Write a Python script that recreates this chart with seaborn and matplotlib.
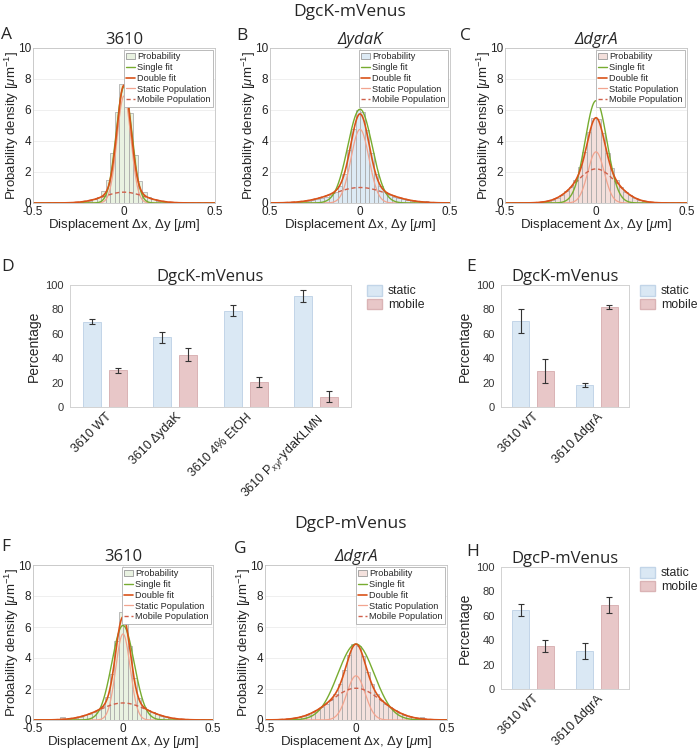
import numpy as np
import pandas as pd
import matplotlib
matplotlib.use("Agg")
import matplotlib.pyplot as plt
from matplotlib.patches import Patch
from matplotlib.lines import Line2D
import seaborn as sns

# ---------------- data ----------------
# Histogram panels: displacement distributions (bins of 0.025 um from -0.4 to 0.4)
hist_titles = ["3610", "ΔydaK", "ΔdgrA", "3610", "ΔdgrA"]
hist_letters = ["A", "B", "C", "F", "G"]

hist_A = [0, 0, 0, 0.01, 0.02, 0.03, 0.06, 0.1, 0.15, 0.25, 0.4, 0.75, 1.5, 3.2, 5.9, 7.7,
          7.6, 5.8, 3.1, 1.4, 0.7, 0.4, 0.25, 0.15, 0.1, 0.06, 0.04, 0.02, 0.01, 0, 0, 0]
hist_B = [0.03, 0.05, 0.08, 0.1, 0.15, 0.2, 0.25, 0.3, 0.4, 0.5, 0.7, 1.1, 1.9, 3.4, 4.8, 6.0,
          5.9, 4.7, 3.2, 1.9, 1.1, 0.7, 0.5, 0.4, 0.3, 0.25, 0.2, 0.15, 0.1, 0.08, 0.12, 0.05]
hist_C = [0, 0.01, 0.02, 0.04, 0.07, 0.13, 0.22, 0.35, 0.5, 0.75, 1.05, 1.5, 2.3, 3.3, 4.6, 5.5,
          5.4, 4.5, 3.2, 2.25, 1.5, 1.0, 0.72, 0.5, 0.33, 0.2, 0.12, 0.07, 0.04, 0.02, 0.01, 0]
hist_F = [0.01, 0.02, 0.2, 0.06, 0.1, 0.15, 0.2, 0.3, 0.4, 0.5, 0.65, 0.9, 1.5, 3.0, 5.1, 7.0,
          6.6, 4.8, 2.7, 1.4, 0.85, 0.62, 0.5, 0.38, 0.28, 0.2, 0.14, 0.09, 0.06, 0.04, 0.02, 0.01]
hist_G = [0.05, 0.07, 0.11, 0.17, 0.25, 0.35, 0.5, 0.65, 0.85, 1.05, 1.3, 1.7, 2.3, 3.2, 4.2, 4.9,
          4.8, 4.1, 3.1, 2.3, 1.7, 1.3, 1.05, 0.84, 0.64, 0.48, 0.35, 0.25, 0.17, 0.11, 0.2, 0.05]
hist_values = [hist_A, hist_B, hist_C, hist_F, hist_G]

# Gaussian fit parameters (peak height, sigma) per panel A, B, C, F, G
single_peak = [7.5, 6.05, 6.6, 6.1, 4.9]
single_sigma = [0.043, 0.068, 0.06, 0.062, 0.1]
static_peak = [6.9, 4.75, 3.3, 5.55, 2.85]
static_sigma = [0.038, 0.05, 0.045, 0.04, 0.05]
mobile_peak = [0.7, 1.0, 2.2, 1.1, 2.05]
mobile_sigma = [0.11, 0.15, 0.11, 0.13, 0.14]

# Bar panels: percentage static / mobile
D_strains = ["3610 WT", "3610 ΔydaK", "3610 4% EtOH", "3610 P$_{xyl}$-ydaKLMN"]
D_static = [70, 57, 79, 91]
D_static_err = [2, 4.5, 4.5, 4.8]
D_mobile = [30, 43, 20.5, 8.6]
D_mobile_err = [2.3, 5, 4.5, 4.8]

E_strains = ["3610 WT", "3610 ΔdgrA"]
E_static = [70.5, 17.8]
E_static_err = [10, 1.6]
E_mobile = [29.5, 81.7]
E_mobile_err = [10, 1.6]

H_strains = ["3610 WT", "3610 ΔdgrA"]
H_static = [65, 31]
H_static_err = [4.8, 6.5]
H_mobile = [35, 69]
H_mobile_err = [4.8, 6.5]

# ---------------- style ----------------
sns.set_style("white")
plt.rcParams['font.family'] = ['Liberation Sans', 'DejaVu Sans']
plt.rcParams['axes.unicode_minus'] = False
plt.rcParams['mathtext.fontset'] = 'custom'
plt.rcParams['mathtext.rm'] = 'Liberation Sans'
plt.rcParams['mathtext.it'] = 'Liberation Sans:italic'
plt.rcParams['mathtext.bf'] = 'Liberation Sans:bold'

TITLE_FONT = ['Open Sans', 'DejaVu Sans']

hist_faces = ['#e9f2e1', '#ddeaf4', '#f3dfdb', '#e9f2e1', '#f4e1dd']
HIST_EDGE = '#a3a3a3'
C_SINGLE = '#77ac30'
C_DOUBLE = '#d95319'
C_STATIC = '#f2a48f'
C_MOBILE = '#d0604a'

STATIC_FACE, STATIC_EDGE = '#dae8f4', '#c2d5e8'
MOBILE_FACE, MOBILE_EDGE = '#e8c7c8', '#dab3b5'

W, H = 700, 749
fig = plt.figure(figsize=(W / 100, H / 100), dpi=100)


def ax_px(l, t, r, b):
    return fig.add_axes([l / W, 1 - b / H, (r - l) / W, (b - t) / H])


def letter(x, y, s):
    fig.text(x / W, 1 - y / H, s, fontsize=12.5, family=TITLE_FONT, ha='left', va='center')


def gauss(x, a, s):
    return a * np.exp(-x ** 2 / (2 * s ** 2))


BIN_W = 0.025
centers = np.arange(-0.4 + BIN_W / 2, 0.4, BIN_W)
xg = np.linspace(-0.5, 0.5, 1001)

hist_boxes = [(33, 48, 215, 203), (270, 48, 450, 203), (505, 48, 687, 203),
              (33, 565, 213, 720), (265, 565, 447, 720)]
letter_pos = [(1, 35), (236, 36), (460, 36), (1, 547), (234, 549)]

for i in range(5):
    l, t, r, b = hist_boxes[i]
    ax = ax_px(l, t, r, b)
    hdf = pd.DataFrame({'x': centers, 'w': hist_values[i]})
    sns.histplot(data=hdf, x='x', weights='w', binwidth=BIN_W, binrange=(-0.4, 0.4), ax=ax,
                 color=hist_faces[i], edgecolor=HIST_EDGE, linewidth=0.5, alpha=1)
    st = gauss(xg, static_peak[i], static_sigma[i])
    mo = gauss(xg, mobile_peak[i], mobile_sigma[i])
    si = gauss(xg, single_peak[i], single_sigma[i])
    sns.lineplot(x=xg, y=st, ax=ax, color=C_STATIC, lw=0.9)
    sns.lineplot(x=xg, y=mo, ax=ax, color=C_MOBILE, lw=1.0, linestyle=(0, (3, 2)))
    sns.lineplot(x=xg, y=si, ax=ax, color=C_SINGLE, lw=1.0)
    sns.lineplot(x=xg, y=st + mo, ax=ax, color=C_DOUBLE, lw=1.2)
    ax.set_xlim(-0.5, 0.5)
    ax.set_ylim(0, 10)
    ax.set_xticks([-0.5, 0, 0.5])
    if i == 1:
        ax.set_xticklabels(['0.5', '0', '0.5'])
    else:
        ax.set_xticklabels(['-0.5', '0', '0.5'])
    ax.set_yticks([0, 2, 4, 6, 8, 10])
    ax.set_yticklabels(['0', '2', '4', '6', '8', '10'])
    ax.grid(True, color='#ececec', lw=0.6)
    ax.set_axisbelow(True)
    for sp in ax.spines.values():
        sp.set_color('#c4c4c4')
        sp.set_linewidth(0.6)
    ax.tick_params(direction='in', length=2.5, width=0.5, color='#999999',
                   labelsize=8.5, labelcolor='#222222', pad=1.5)
    ax.tick_params(axis='x', pad=2.5)
    ax.set_ylabel(r'Probability density [$\mu$m$^{-1}$]', fontsize=9.5)
    ax.yaxis.set_label_coords(-12 / (r - l), 0.5)
    ax.set_xlabel(r'Displacement $\Delta$x, $\Delta$y [$\mu$m]', fontsize=9.5)
    ax.xaxis.set_label_coords(0.5, -14.5 / (b - t))
    ax.set_title(hist_titles[i], fontsize=12, family=TITLE_FONT, pad=3,
                 style='normal' if hist_titles[i] == '3610' else 'italic')
    handles = [Patch(facecolor=hist_faces[i], edgecolor='#999999', lw=0.6, label='Probability'),
               Line2D([], [], color=C_SINGLE, lw=1.0, label='Single fit'),
               Line2D([], [], color=C_DOUBLE, lw=1.2, label='Double fit'),
               Line2D([], [], color=C_STATIC, lw=0.9, label='Static Population'),
               Line2D([], [], color=C_MOBILE, lw=1.0, linestyle=(0, (3, 2)), label='Mobile Population')]
    leg = ax.legend(handles=handles, loc='upper right', fontsize=6.6, frameon=True, fancybox=False,
                    borderpad=0.25, labelspacing=0.2, handlelength=1.0, handletextpad=0.25,
                    borderaxespad=0.2, framealpha=1)
    leg.get_frame().set_edgecolor('#b0b0b0')
    leg.get_frame().set_linewidth(0.6)
    letter(*letter_pos[i], hist_letters[i])


def bar_panel(box, strains, s, se, m, me, title, title_y, leg_x, width, gap):
    l, t, r, b = box
    ax = ax_px(l, t, r, b)
    n = len(strains)
    df = pd.DataFrame({'strain': strains * 2,
                       'population': ['static'] * n + ['mobile'] * n,
                       'pct': s + m})
    sns.barplot(data=df, x='strain', y='pct', hue='population', order=strains,
                hue_order=['static', 'mobile'],
                palette={'static': STATIC_FACE, 'mobile': MOBILE_FACE},
                width=width, gap=gap, errorbar=None, ax=ax, legend=False,
                saturation=1, linewidth=0.7)
    for cont, edgec, vals, errs in zip(ax.containers, [STATIC_EDGE, MOBILE_EDGE], [s, m], [se, me]):
        xs = []
        for p in cont:
            p.set_edgecolor(edgec)
            xs.append(p.get_x() + p.get_width() / 2)
        ax.errorbar(xs, vals, yerr=errs, fmt='none', ecolor='#333333', capsize=2,
                    elinewidth=0.8, capthick=0.8)
    ax.set_ylim(0, 100)
    ax.set_xlim(-0.5, n - 0.5)
    ax.set_yticks([0, 20, 40, 60, 80, 100])
    ax.set_yticklabels(['0', '20', '40', '60', '80', '100'])
    for sp in ax.spines.values():
        sp.set_color('#d2d2d2')
        sp.set_linewidth(0.7)
    ax.tick_params(axis='y', direction='out', length=3, width=0.6, color='#999999',
                   labelsize=8, labelcolor='#333333', pad=1.5)
    ax.tick_params(axis='x', length=0, labelsize=9, labelcolor='#222222', pad=3)
    plt.setp(ax.get_xticklabels(), rotation=45, ha='right', rotation_mode='anchor')
    ax.set_xlabel('')
    ax.set_ylabel('Percentage', fontsize=10, labelpad=3)
    fig.text(((l + r) / 2) / W, 1 - title_y / H, title, fontsize=12, family=TITLE_FONT,
             ha='center', va='center')
    handles = [Patch(facecolor=STATIC_FACE, edgecolor=STATIC_EDGE, label='static'),
               Patch(facecolor=MOBILE_FACE, edgecolor=MOBILE_EDGE, label='mobile')]
    ax.legend(handles=handles, loc='upper left', bbox_to_anchor=(leg_x / W, 1 - t / H),
              bbox_transform=fig.transFigure, frameon=False,
              fontsize=8.8, handlelength=1.2, handleheight=0.95, labelspacing=0.12,
              handletextpad=0.5, borderaxespad=0, borderpad=0)
    return ax


bar_panel((70, 285, 351, 407), D_strains, D_static, D_static_err, D_mobile, D_mobile_err,
          'DgcK-mVenus', 277, 367, 0.74, 0.3)
bar_panel((501, 285, 629, 407), E_strains, E_static, E_static_err, E_mobile, E_mobile_err,
          'DgcK-mVenus', 277, 640, 0.78, 0.3)
bar_panel((501, 567, 629, 689), H_strains, H_static, H_static_err, H_mobile, H_mobile_err,
          'DgcP-mVenus', 559, 640, 0.78, 0.3)

letter(1, 267, 'D')
letter(466, 267, 'E')
letter(466, 552, 'H')

fig.text(0.5, 1 - 12 / H, 'DgcK-mVenus', fontsize=12.5, family=TITLE_FONT, ha='center', va='center')
fig.text(0.5, 1 - 524 / H, 'DgcP-mVenus', fontsize=12.5, family=TITLE_FONT, ha='center', va='center')

fig.savefig('out.png', dpi=100)
